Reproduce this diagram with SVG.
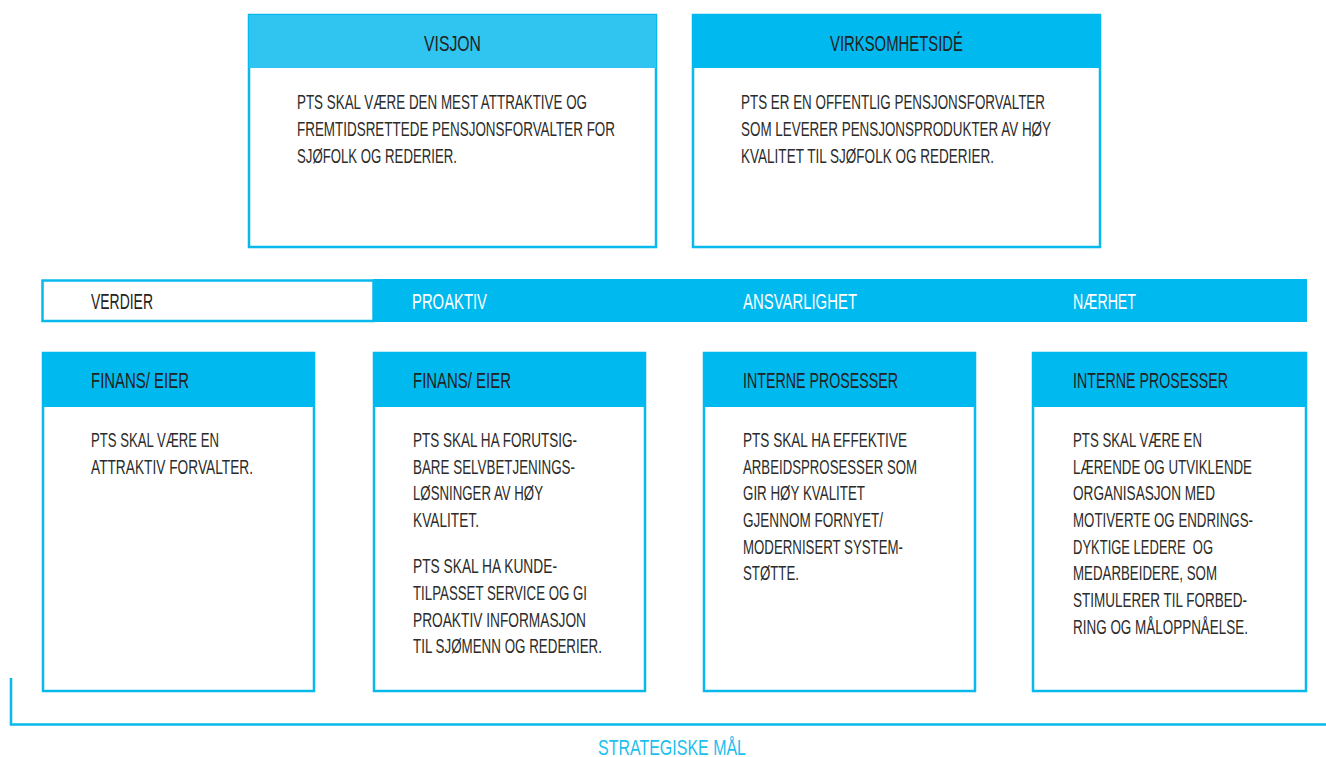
<svg xmlns="http://www.w3.org/2000/svg" width="1326" height="757" viewBox="0 0 1326 757">
<style>
.box{fill:#fff;stroke:#0ab9ec;stroke-width:2.5}
.hdr{fill:#00b9ef}
.hdr2{fill:#30c4f1}
.t{font-family:"Liberation Sans",Arial,sans-serif;fill:#2b2b2b;font-size:20.5px}
.h{font-family:"Liberation Sans",Arial,sans-serif;fill:#222;font-size:21.5px}
.w{font-family:"Liberation Sans",Arial,sans-serif;fill:#fff;font-size:21.5px}
.line{fill:none;stroke:#0ab9ec;stroke-width:2.5}
</style>
<rect width="1326" height="757" fill="#fff"/>

<g id="visjon">
<rect class="box" x="249" y="15" width="407" height="232"/>
<rect class="hdr2" x="249" y="15" width="407" height="53"/>
<g transform="translate(424 0) scale(0.75 1)">
<text class="h" x="0" y="51" textLength="76" lengthAdjust="spacingAndGlyphs">VISJON</text>
</g>
<g transform="translate(297 0) scale(0.75 1)">
<text class="t" x="0" y="109" textLength="386.7" lengthAdjust="spacingAndGlyphs">PTS SKAL VÆRE DEN MEST ATTRAKTIVE OG</text>
<text class="t" x="0" y="136" textLength="424" lengthAdjust="spacingAndGlyphs">FREMTIDSRETTEDE PENSJONSFORVALTER FOR</text>
<text class="t" x="0" y="163" textLength="213.3" lengthAdjust="spacingAndGlyphs">SJØFOLK OG REDERIER.</text>
</g>
</g>

<g id="virksomhetside">
<rect class="box" x="693" y="15" width="407" height="232"/>
<rect class="hdr" x="692" y="14" width="409" height="54"/>
<g transform="translate(830 0) scale(0.75 1)">
<text class="h" x="0" y="51" textLength="177.3" lengthAdjust="spacingAndGlyphs">VIRKSOMHETSIDÉ</text>
</g>
<g transform="translate(741 0) scale(0.75 1)">
<text class="t" x="0" y="109" textLength="405.3" lengthAdjust="spacingAndGlyphs">PTS ER EN OFFENTLIG PENSJONSFORVALTER</text>
<text class="t" x="0" y="136" textLength="413.3" lengthAdjust="spacingAndGlyphs">SOM LEVERER PENSJONSPRODUKTER AV HØY</text>
<text class="t" x="0" y="163" textLength="337.3" lengthAdjust="spacingAndGlyphs">KVALITET TIL SJØFOLK OG REDERIER.</text>
</g>
</g>

<g id="verdier">
<rect class="box" x="42.5" y="280.5" width="331" height="40.5"/>
<rect class="hdr" x="373" y="279" width="934" height="43"/>
<g transform="scale(0.75 1)">
<text class="h" x="121.33" y="309" textLength="82.67" lengthAdjust="spacingAndGlyphs">VERDIER</text>
<text class="w" x="549.33" y="309" textLength="100" lengthAdjust="spacingAndGlyphs">PROAKTIV</text>
<text class="w" x="990.67" y="309" textLength="152" lengthAdjust="spacingAndGlyphs">ANSVARLIGHET</text>
<text class="w" x="1430.67" y="309" textLength="84" lengthAdjust="spacingAndGlyphs">NÆRHET</text>
</g>
</g>

<g id="mal1">
<rect class="box" x="43" y="353" width="271" height="338"/>
<rect class="hdr" x="42" y="352" width="273" height="55"/>
<g transform="translate(91 0) scale(0.75 1)">
<text class="h" x="0" y="388" textLength="130.67" lengthAdjust="spacingAndGlyphs">FINANS/ EIER</text>
<text class="t" x="0" y="447" textLength="170.67" lengthAdjust="spacingAndGlyphs">PTS SKAL VÆRE EN</text>
<text class="t" x="0" y="474" textLength="216" lengthAdjust="spacingAndGlyphs">ATTRAKTIV FORVALTER.</text>
</g>
</g>

<g id="mal2">
<rect class="box" x="374" y="353" width="271" height="338"/>
<rect class="hdr" x="373" y="352" width="273" height="55"/>
<g transform="translate(413 0) scale(0.75 1)">
<text class="h" x="0" y="388" textLength="130.67" lengthAdjust="spacingAndGlyphs">FINANS/ EIER</text>
<text class="t" x="0" y="447" textLength="218.67" lengthAdjust="spacingAndGlyphs">PTS SKAL HA FORUTSIG-</text>
<text class="t" x="0" y="474" textLength="216" lengthAdjust="spacingAndGlyphs">BARE SELVBETJENINGS-</text>
<text class="t" x="0" y="500" textLength="173.33" lengthAdjust="spacingAndGlyphs">LØSNINGER AV HØY</text>
<text class="t" x="0" y="527" textLength="88" lengthAdjust="spacingAndGlyphs">KVALITET.</text>
<text class="t" x="0" y="573" textLength="192" lengthAdjust="spacingAndGlyphs">PTS SKAL HA KUNDE-</text>
<text class="t" x="0" y="600" textLength="232" lengthAdjust="spacingAndGlyphs">TILPASSET SERVICE OG GI</text>
<text class="t" x="0" y="627" textLength="230.67" lengthAdjust="spacingAndGlyphs">PROAKTIV INFORMASJON</text>
<text class="t" x="0" y="653" textLength="252" lengthAdjust="spacingAndGlyphs">TIL SJØMENN OG REDERIER.</text>
</g>
</g>

<g id="mal3">
<rect class="box" x="704" y="353" width="271" height="338"/>
<rect class="hdr" x="703" y="352" width="273" height="55"/>
<g transform="translate(743 0) scale(0.75 1)">
<text class="h" x="0" y="388" textLength="206.67" lengthAdjust="spacingAndGlyphs">INTERNE PROSESSER</text>
<text class="t" x="0" y="447" textLength="218.67" lengthAdjust="spacingAndGlyphs">PTS SKAL HA EFFEKTIVE</text>
<text class="t" x="0" y="474" textLength="232" lengthAdjust="spacingAndGlyphs">ARBEIDSPROSESSER SOM</text>
<text class="t" x="0" y="500" textLength="162.67" lengthAdjust="spacingAndGlyphs">GIR HØY KVALITET</text>
<text class="t" x="0" y="527" textLength="186.67" lengthAdjust="spacingAndGlyphs">GJENNOM FORNYET/</text>
<text class="t" x="0" y="554" textLength="213.33" lengthAdjust="spacingAndGlyphs">MODERNISERT SYSTEM-</text>
<text class="t" x="0" y="580" textLength="74.67" lengthAdjust="spacingAndGlyphs">STØTTE.</text>
</g>
</g>

<g id="mal4">
<rect class="box" x="1033" y="353" width="273" height="338"/>
<rect class="hdr" x="1032" y="352" width="275" height="55"/>
<g transform="translate(1073 0) scale(0.75 1)">
<text class="h" x="0" y="388" textLength="206.67" lengthAdjust="spacingAndGlyphs">INTERNE PROSESSER</text>
<text class="t" x="0" y="447" textLength="172" lengthAdjust="spacingAndGlyphs">PTS SKAL VÆRE EN</text>
<text class="t" x="0" y="474" textLength="238.67" lengthAdjust="spacingAndGlyphs">LÆRENDE OG UTVIKLENDE</text>
<text class="t" x="0" y="500" textLength="189.33" lengthAdjust="spacingAndGlyphs">ORGANISASJON MED</text>
<text class="t" x="0" y="527" textLength="240" lengthAdjust="spacingAndGlyphs">MOTIVERTE OG ENDRINGS-</text>
<text class="t" x="0" y="554" textLength="186.67" lengthAdjust="spacingAndGlyphs" style="white-space:pre">DYKTIGE LEDERE  OG</text>
<text class="t" x="0" y="580" textLength="192" lengthAdjust="spacingAndGlyphs">MEDARBEIDERE, SOM</text>
<text class="t" x="0" y="607" textLength="232" lengthAdjust="spacingAndGlyphs">STIMULERER TIL FORBED-</text>
<text class="t" x="0" y="634" textLength="233.33" lengthAdjust="spacingAndGlyphs">RING OG MÅLOPPNÅELSE.</text>
</g>
</g>

<g id="connectors">
<polyline class="line" points="11,678 11,724.5 1326,724.5"/>
</g>

<g id="strategiske-mal">
<g transform="translate(598 0) scale(0.75 1)">
<text x="0" y="755" textLength="197.33" lengthAdjust="spacingAndGlyphs" style="font-family:'Liberation Sans',Arial,sans-serif;font-size:21.5px;fill:#1cbfee">STRATEGISKE MÅL</text>
</g>
</g>
</svg>
